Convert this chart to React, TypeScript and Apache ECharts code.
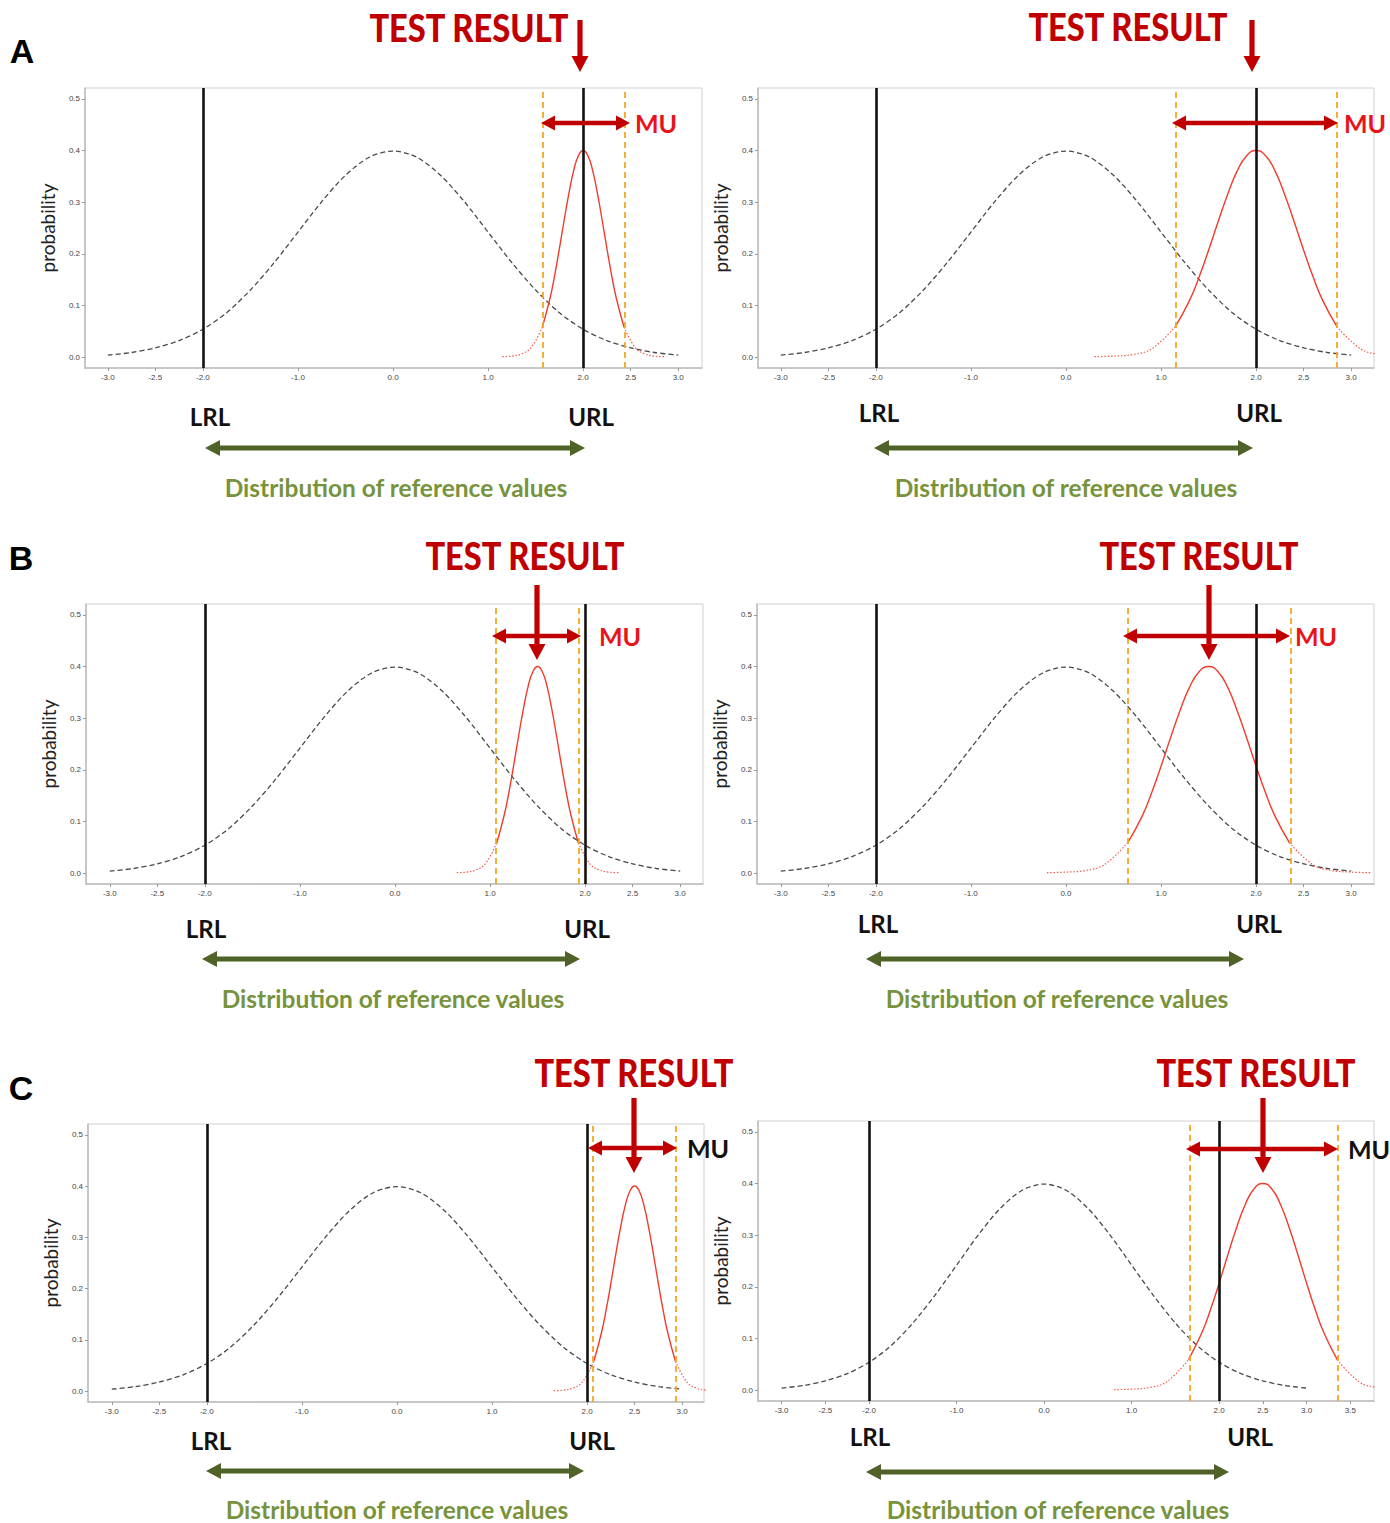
import React, { useEffect, useRef } from "react";
import * as echarts from "echarts";

// Reference distribution (standard normal)
const refX = [-3, -2.75, -2.5, -2.25, -2, -1.75, -1.5, -1.25, -1, -0.75, -0.5, -0.25, 0, 0.25, 0.5, 0.75, 1, 1.25, 1.5, 1.75, 2, 2.25, 2.5, 2.75, 3];
const refY = [0.004, 0.009, 0.018, 0.032, 0.054, 0.086, 0.13, 0.183, 0.242, 0.301, 0.352, 0.387, 0.399, 0.387, 0.352, 0.301, 0.242, 0.183, 0.13, 0.086, 0.054, 0.032, 0.018, 0.009, 0.004];

// Test-result curve shapes (offset from the test result, probability)
const narrowOffsets = [-0.85, -0.75, -0.65, -0.55, -0.43, -0.35, -0.3, -0.25, -0.2, -0.15, -0.1, -0.05, 0, 0.05, 0.1, 0.15, 0.2, 0.25, 0.3, 0.35, 0.43, 0.55, 0.65, 0.75, 0.85];
const narrowValues = [0.001, 0.002, 0.006, 0.018, 0.058, 0.113, 0.158, 0.21, 0.265, 0.317, 0.361, 0.39, 0.4, 0.39, 0.361, 0.317, 0.265, 0.21, 0.158, 0.113, 0.058, 0.018, 0.006, 0.002, 0.001];
const wideOffsets = [-1.7, -1.5, -1.3, -1.1, -0.85, -0.7, -0.6, -0.5, -0.4, -0.3, -0.2, -0.1, 0, 0.1, 0.2, 0.3, 0.4, 0.5, 0.6, 0.7, 0.85, 1.1, 1.3, 1.5, 1.7];
const wideValues = [0.001, 0.002, 0.005, 0.016, 0.059, 0.11, 0.155, 0.207, 0.262, 0.315, 0.36, 0.39, 0.4, 0.39, 0.36, 0.315, 0.262, 0.207, 0.155, 0.11, 0.059, 0.016, 0.005, 0.002, 0.001];

// Per panel: A-left, A-right, B-left, B-right, C-left, C-right
const panelLetters = ["A", "B", "C"];
const testResults = [2.0, 2.0, 1.5, 1.5, 2.5, 2.5];
const panelSpread = ["narrow", "wide", "narrow", "wide", "narrow", "wide"];
const muLow = [1.58, 1.15, 1.06, 0.65, 2.06, 1.66];
const muHigh = [2.44, 2.85, 1.93, 2.36, 2.93, 3.36];
const lrlValue = -2.0;
const urlValue = 2.0;
const xTicks = [-3, -2.5, -2, -1, 0, 1, 2, 2.5, 3];
const xTicksExtended = [-3, -2.5, -2, -1, 0, 1, 2, 2.5, 3, 3.5];
const yTicks = [0, 0.1, 0.2, 0.3, 0.4, 0.5];
const xMinValues = [-3.24, -3.24, -3.25, -3.25, -3.25, -3.27];
const xMaxValues = [3.25, 3.24, 3.24, 3.24, 3.23, 3.77];
const yMin = -0.021;
const yMax = 0.521;

const grids = [
  { left: 85, top: 88, width: 617, height: 280 },
  { left: 758, top: 88, width: 616, height: 280 },
  { left: 86, top: 604, width: 617, height: 280 },
  { left: 757, top: 604, width: 617, height: 280 },
  { left: 88, top: 1124, width: 616, height: 278 },
  { left: 758, top: 1121, width: 616, height: 280 },
];

const ann = [
  { tr: [469, 28], ax: 580, ay: [20, 72], mu: [541, 630, 123], muT: [656, 123], muC: "#e8131b", lrl: [210, 416], url: [591, 416], green: [205, 585, 448], dist: [396, 488] },
  { tr: [1128, 27], ax: 1252, ay: [20, 72], mu: [1172, 1338, 123], muT: [1365, 123], muC: "#e8131b", lrl: [879, 412], url: [1259, 412], green: [874, 1253, 448], dist: [1066, 488] },
  { tr: [525, 556], ax: 537, ay: [585, 660], mu: [492, 581, 636], muT: [620, 636], muC: "#e8131b", lrl: [206, 928], url: [587, 928], green: [202, 580, 959], dist: [393, 999] },
  { tr: [1199, 556], ax: 1209, ay: [585, 660], mu: [1123, 1290, 636], muT: [1316, 636], muC: "#e8131b", lrl: [878, 923], url: [1259, 923], green: [866, 1244, 959], dist: [1057, 999] },
  { tr: [634, 1073], ax: 634, ay: [1098, 1173], mu: [588, 677, 1148], muT: [708, 1148], muC: "#111111", lrl: [211, 1440], url: [592, 1440], green: [206, 584, 1471], dist: [397, 1510] },
  { tr: [1256, 1073], ax: 1263, ay: [1098, 1173], mu: [1186, 1338, 1149], muT: [1369, 1149], muC: "#111111", lrl: [870, 1436], url: [1250, 1436], green: [866, 1229, 1472], dist: [1058, 1510] },
];
const letterPos = [[22, 51], [21, 558], [21, 1088]];

const DARK_RED = "#c00000";
const GREEN_ARROW = "#4f6228";
const GREEN_TEXT = "#77933c";

function downArrow(x: number, y1: number, y2: number, color: string) {
  const t = 2.6, hh = 8.5, hl = 16;
  return {
    type: "polygon",
    silent: true,
    shape: { points: [[x - t, y1], [x + t, y1], [x + t, y2 - hl], [x + hh, y2 - hl], [x, y2], [x - hh, y2 - hl], [x - t, y2 - hl]] },
    style: { fill: color },
    z: 100,
  };
}

function doubleArrow(x1: number, x2: number, y: number, color: string, t: number, hl: number, hh: number) {
  return {
    type: "polygon",
    silent: true,
    shape: {
      points: [[x1, y], [x1 + hl, y - hh], [x1 + hl, y - t], [x2 - hl, y - t], [x2 - hl, y - hh], [x2, y], [x2 - hl, y + hh], [x2 - hl, y + t], [x1 + hl, y + t], [x1 + hl, y + hh]],
    },
    style: { fill: color },
    z: 100,
  };
}

function label(x: number, y: number, text: string, size: number, color: string, scaleX = 1, family = "Lato", weight: any = "bold") {
  return {
    type: "text",
    x,
    y,
    scaleX,
    silent: true,
    z: 100,
    style: {
      text,
      fill: color,
      fontSize: size,
      fontWeight: weight,
      fontFamily: family,
      textAlign: "center",
      textVerticalAlign: "middle",
      align: "center",
      verticalAlign: "middle",
    },
  };
}

function buildOption() {
  const xAxis: any[] = [];
  const yAxis: any[] = [];
  const series: any[] = [];
  const graphic: any[] = [];

  grids.forEach((g, i) => {
    const ticks = i === 5 ? xTicksExtended : xTicks;
    xAxis.push({
      type: "value",
      gridIndex: i,
      min: xMinValues[i],
      max: xMaxValues[i],
      axisLine: { show: true, onZero: false, lineStyle: { color: "#bdbdbd", width: 1.5 } },
      axisTick: { show: true, length: 3, customValues: ticks, lineStyle: { color: "#999" } },
      axisLabel: { customValues: ticks, formatter: (v: number) => v.toFixed(1), fontSize: 8, color: "#444", margin: 5, fontFamily: "Liberation Sans" },
      splitLine: { show: false },
    });
    yAxis.push({
      type: "value",
      gridIndex: i,
      min: yMin,
      max: yMax,
      name: "probability",
      nameLocation: "middle",
      nameGap: 28,
      nameTextStyle: { fontSize: 19, color: "#222", fontFamily: "Lato" },
      axisLine: { show: true, onZero: false, lineStyle: { color: "#bdbdbd", width: 1.5 } },
      axisTick: { show: true, length: 3, customValues: yTicks, lineStyle: { color: "#999" } },
      axisLabel: { customValues: yTicks, formatter: (v: number) => v.toFixed(1), fontSize: 8, color: "#444", margin: 5, fontFamily: "Liberation Sans" },
      splitLine: { show: false },
    });

    series.push({
      type: "line",
      xAxisIndex: i,
      yAxisIndex: i,
      data: refX.map((x, k) => [x, refY[k]]),
      showSymbol: false,
      smooth: 0.3,
      silent: true,
      lineStyle: { color: "#4a4a4a", width: 1.3, type: [5, 3] },
      z: 2,
      markLine: {
        silent: true,
        symbol: ["none", "none"],
        label: { show: false },
        lineStyle: { color: "#111", width: 2.6, type: "solid" },
        data: [{ xAxis: lrlValue }, { xAxis: urlValue }],
        z: 5,
      },
    });

    const narrow = panelSpread[i] === "narrow";
    const offs = narrow ? narrowOffsets : wideOffsets;
    const vals = narrow ? narrowValues : wideValues;
    const split = narrow ? 0.43 : 0.85;
    const pts = offs.map((o, k) => ({ o, p: [testResults[i] + o, vals[k]] }));
    const leftPts = pts.filter((d) => d.o <= -split + 1e-9).map((d) => d.p);
    const midPts = pts.filter((d) => Math.abs(d.o) <= split + 1e-9).map((d) => d.p);
    const rightPts = pts.filter((d) => d.o >= split - 1e-9).map((d) => d.p);

    const tail = (data: any[]) => ({
      type: "line",
      xAxisIndex: i,
      yAxisIndex: i,
      data,
      showSymbol: false,
      smooth: 0.4,
      silent: true,
      lineStyle: { color: "#f25a4a", width: 1.2, type: [1.5, 1.8] },
      z: 3,
    });
    series.push(tail(leftPts));
    series.push({
      type: "line",
      xAxisIndex: i,
      yAxisIndex: i,
      data: midPts,
      showSymbol: false,
      smooth: 0.5,
      silent: true,
      lineStyle: { color: "#f03c2c", width: 1.4 },
      z: 3,
      markLine: {
        silent: true,
        symbol: ["none", "none"],
        label: { show: false },
        lineStyle: { color: "#f5a623", width: 1.8, type: [6, 4] },
        data: [{ xAxis: muLow[i] }, { xAxis: muHigh[i] }],
        z: 6,
      },
    });
    series.push(tail(rightPts));

    const a = ann[i];
    graphic.push(label(a.tr[0], a.tr[1], "TEST RESULT", 38, DARK_RED, 0.86, "Lato", 900));
    graphic.push(downArrow(a.ax, a.ay[0], a.ay[1], DARK_RED));
    graphic.push(doubleArrow(a.mu[0], a.mu[1], a.mu[2], DARK_RED, 2.2, 14, 7.5));
    graphic.push(label(a.muT[0], a.muT[1], "MU", 25, a.muC));
    graphic.push(label(a.lrl[0], a.lrl[1], "LRL", 24, "#111"));
    graphic.push(label(a.url[0], a.url[1], "URL", 24, "#111"));
    graphic.push(doubleArrow(a.green[0], a.green[1], a.green[2], GREEN_ARROW, 2.6, 15, 8));
    graphic.push(label(a.dist[0], a.dist[1], "Distribution of reference values", 24, GREEN_TEXT, 1.02));
  });

  panelLetters.forEach((l, k) => {
    graphic.push(label(letterPos[k][0], letterPos[k][1], l, 34, "#000", 1, "Liberation Sans"));
  });

  return {
    animation: false,
    backgroundColor: "#ffffff",
    grid: grids.map((g) => ({ ...g, show: true, borderColor: "#d0d0d0", borderWidth: 1, backgroundColor: "transparent", containLabel: false })),
    xAxis,
    yAxis,
    series,
    graphic: { elements: graphic },
  };
}

export default function App() {
  const ref = useRef<HTMLDivElement>(null);
  useEffect(() => {
    if (!ref.current) return;
    const chart = echarts.init(ref.current, undefined, { renderer: "svg" });
    chart.setOption(buildOption() as any);
    return () => chart.dispose();
  }, []);
  return <div ref={ref} style={{ position: "absolute", left: 0, top: 0, width: 1390, height: 1523, background: "#fff" }} />;
}
